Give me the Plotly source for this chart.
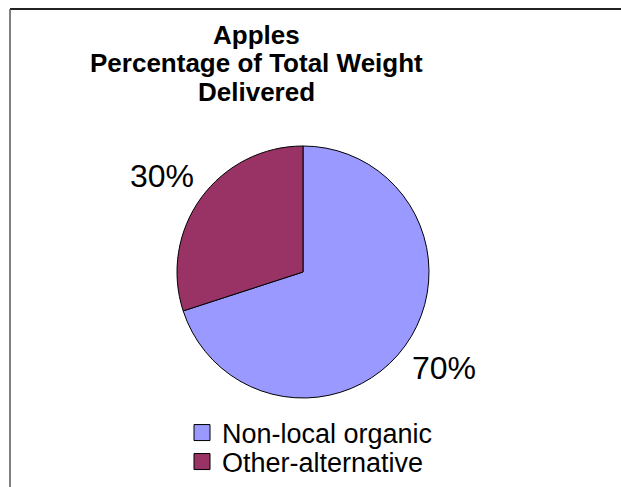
import math
import plotly.graph_objects as go

labels = ["Non-local organic", "Other-alternative"]
values = [70, 30]
colors = ["#9999FF", "#993366"]
title_lines = ["Apples", "Percentage of Total Weight", "Delivered"]

W, H = 621, 487
cx, cy, R = 303, 272, 126
FONT = "Liberation Sans, Arial"

fig = go.Figure()
fig.add_trace(go.Pie(
    labels=labels, values=values, sort=False, direction="clockwise", rotation=0,
    marker=dict(colors=colors, line=dict(color="black", width=1)),
    textinfo="none", hoverinfo="label+percent", showlegend=False,
    domain=dict(x=[(cx - R) / W, (cx + R) / W], y=[(H - cy - R) / H, (H - cy + R) / H]),
))

# legend entries (one legend box per category so rows sit like the original)
legend_names = ["legend", "legend2"]
for lab, col, lg in zip(labels, colors, legend_names):
    fig.add_trace(go.Scatter(
        x=[None], y=[None], mode="markers", name=lab, legend=lg,
        marker=dict(symbol="square", size=16, color=col, line=dict(color="black", width=1)),
        showlegend=True, hoverinfo="skip",
    ))

# percentage labels outside the slices, computed from the values
total = sum(values)
annotations = []
cum = 0
for v in values:
    mid = (cum + v / 2) / total * 2 * math.pi  # clockwise from top
    cum += v
    sx, sy = math.sin(mid), -math.cos(mid)
    px = cx + 174 * sx
    py = cy + 164 * sy
    annotations.append(dict(
        x=px / W, y=1 - py / H, xref="paper", yref="paper",
        text=f"{round(v / total * 100)}%", showarrow=False,
        xanchor="center", yanchor="middle",
        font=dict(size=32, color="black", family=FONT),
    ))

# chart title, one line per annotation (tight line spacing as in the original)
for i, t in enumerate(title_lines):
    annotations.append(dict(
        x=256 / W, y=1 - (35 + 28.5 * i) / H, xref="paper", yref="paper",
        text=f"<b>{t}</b>", showarrow=False, xanchor="center", yanchor="middle",
        font=dict(size=26, color="black", family=FONT),
    ))

leg_common = dict(
    xanchor="left", yanchor="middle", bgcolor="rgba(0,0,0,0)",
    font=dict(size=27, color="black", family=FONT),
    borderwidth=0,
)
row_y = [433, 462]

fig.update_layout(
    width=W, height=H,
    margin=dict(l=0, r=0, t=0, b=0),
    paper_bgcolor="white", plot_bgcolor="white",
    font=dict(family=FONT, color="black"),
    xaxis=dict(visible=False),
    yaxis=dict(visible=False),
    legend=dict(x=182 / W, y=1 - row_y[0] / H, **leg_common),
    legend2=dict(x=182 / W, y=1 - row_y[1] / H, **leg_common),
    annotations=annotations,
    shapes=[
        dict(type="line", xref="paper", yref="paper", x0=10 / W, x1=1, y0=1 - 9 / H, y1=1 - 9 / H,
             line=dict(color="#222222", width=2)),
        dict(type="line", xref="paper", yref="paper", x0=10 / W, x1=10 / W, y0=1 - 9 / H, y1=0,
             line=dict(color="#555555", width=1.5)),
    ],
)

fig.write_html("out.html")
